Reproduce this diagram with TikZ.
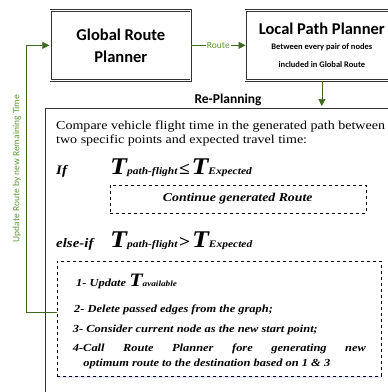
\documentclass[tikz,border=0pt]{standalone}
\usepackage{fontspec}
\setmainfont{Liberation Serif}[FakeStretch=1.15]
\newfontfamily\headfont{Carlito}
\usetikzlibrary{arrows.meta,positioning,shadows}
\definecolor{linkgreen}{HTML}{3D6921}
\definecolor{labelgreen}{HTML}{5E9B39}
\newcommand{\Tvar}[3][24]{{\fontsize{#1}{#1}\selectfont\bfseries\itshape T}{\fontsize{#3}{#3}\selectfont\bfseries\itshape #2}}
\newcommand{\relsym}[1]{{\fontsize{17}{17}\selectfont\bfseries #1}}
\newcommand{\titlesize}{\fontsize{16.5}{15}\selectfont}
\newcommand{\notesize}{\fontsize{8.5}{10}\selectfont}
\tikzset{
  planner/.style   = {draw=black!80, double=white, double distance=1pt, line width=0.7pt,
                      font=\headfont\bfseries, align=center, anchor=north west},
  option/.style    = {draw, dashed, line width=0.5pt, anchor=north west},
  link/.style      = {draw=linkgreen, line width=0.7pt, -{Triangle[length=7pt,width=7pt]}},
  linklabel/.style = {font=\headfont\fontsize{9.5}{10}\selectfont, text=labelgreen},
  plain/.style     = {anchor=base west, inner sep=0pt},
  cond/.style      = {plain, font=\fontsize{13}{14}\selectfont\bfseries\itshape},
  stepline/.style  = {plain, font=\fontsize{10.8}{13}\selectfont\bfseries\itshape}
}
\begin{document}
\begin{tikzpicture}[x=1pt,y=-1pt]
  \useasboundingbox (0,0) rectangle (388,392);
  \clip (0,0) rectangle (388,392);

  % planners, first row
  \node[planner, minimum width=140pt, minimum height=70pt,
        font=\headfont\bfseries\fontsize{16.5}{22}\selectfont] (grp) at (50.5,10) {Global Route\\Planner};
  \node[planner, minimum width=152pt, minimum height=70pt] (lpp) at (245.5,10)
    {\titlesize Local Path Planner\\[3pt] \notesize Between every pair of nodes\\[6.5pt] \notesize included in Global Route};

  % re-planning frame
  \node[planner, minimum width=360pt, minimum height=300pt] (replan) at (44.5,107.5) {};
  \node[anchor=base, font=\headfont\bfseries\fontsize{13.5}{16}\selectfont] (title) at (228,103) {Re-Planning};

  \node[anchor=north west, inner sep=0pt, align=left, font=\fontsize{12.2}{14}\selectfont] (intro) at (56,120.5)
    {Compare vehicle flight time in the generated path between\\two specific points and expected travel time:};

  % first case
  \node[cond] (if) at (56,174) {If};
  \node[plain] (lecond) at (110,174)
    {\Tvar{path-flight}{10}\,\relsym{≤}\,\Tvar{Expected}{10}};
  \node[option, minimum width=256pt, minimum height=28pt,
        font=\fontsize{12}{13}\selectfont\bfseries\itshape] (cont) at (109.5,184.5) {Continue generated Route};

  % second case
  \node[cond] (elif) at (56,247) {else-if};
  \node[plain] (gtcond) at (110,247)
    {\Tvar{path-flight}{10}\,\relsym{>}\,\Tvar{Expected}{10}};
  \node[option, minimum width=324pt, minimum height=115pt, fill=white,
        drop shadow={fill=blue!30, opacity=0.35, shadow xshift=0pt, shadow yshift=-2pt}] (steps) at (57,261) {};
  \node[stepline] (s1) at (76,286) {1- Update \Tvar[19]{available}{8}};
  \node[stepline] (s2) at (74,312) {2- Delete passed edges from the graph;};
  \node[stepline] (s3) at (72.7,332) {3- Consider current node as the new start point;};
  \node[stepline] (s4) at (72.7,351) {\makebox[293pt][s]{4-Call Route Planner fore generating new}};
  \node[stepline] (s5) at (83.3,366) {optimum route to the destination based on 1 \& 3};

  % connectors
  \draw[link] (grp.east) -- node[linklabel, fill=white, inner sep=1pt] {Route} (lpp.west);
  \draw[link, shorten >=1.5pt] (lpp.south) -- (lpp.south |- replan.north);
  \draw[link, shorten >=1.2pt] ([yshift=6.5pt]steps.west) -- ++(-31,0) coordinate (fb) |- (grp.west);
  \node[linklabel, rotate=90] (fblabel) at (17,168.5) {Update Route by new Remaining Time};
\end{tikzpicture}
\end{document}
